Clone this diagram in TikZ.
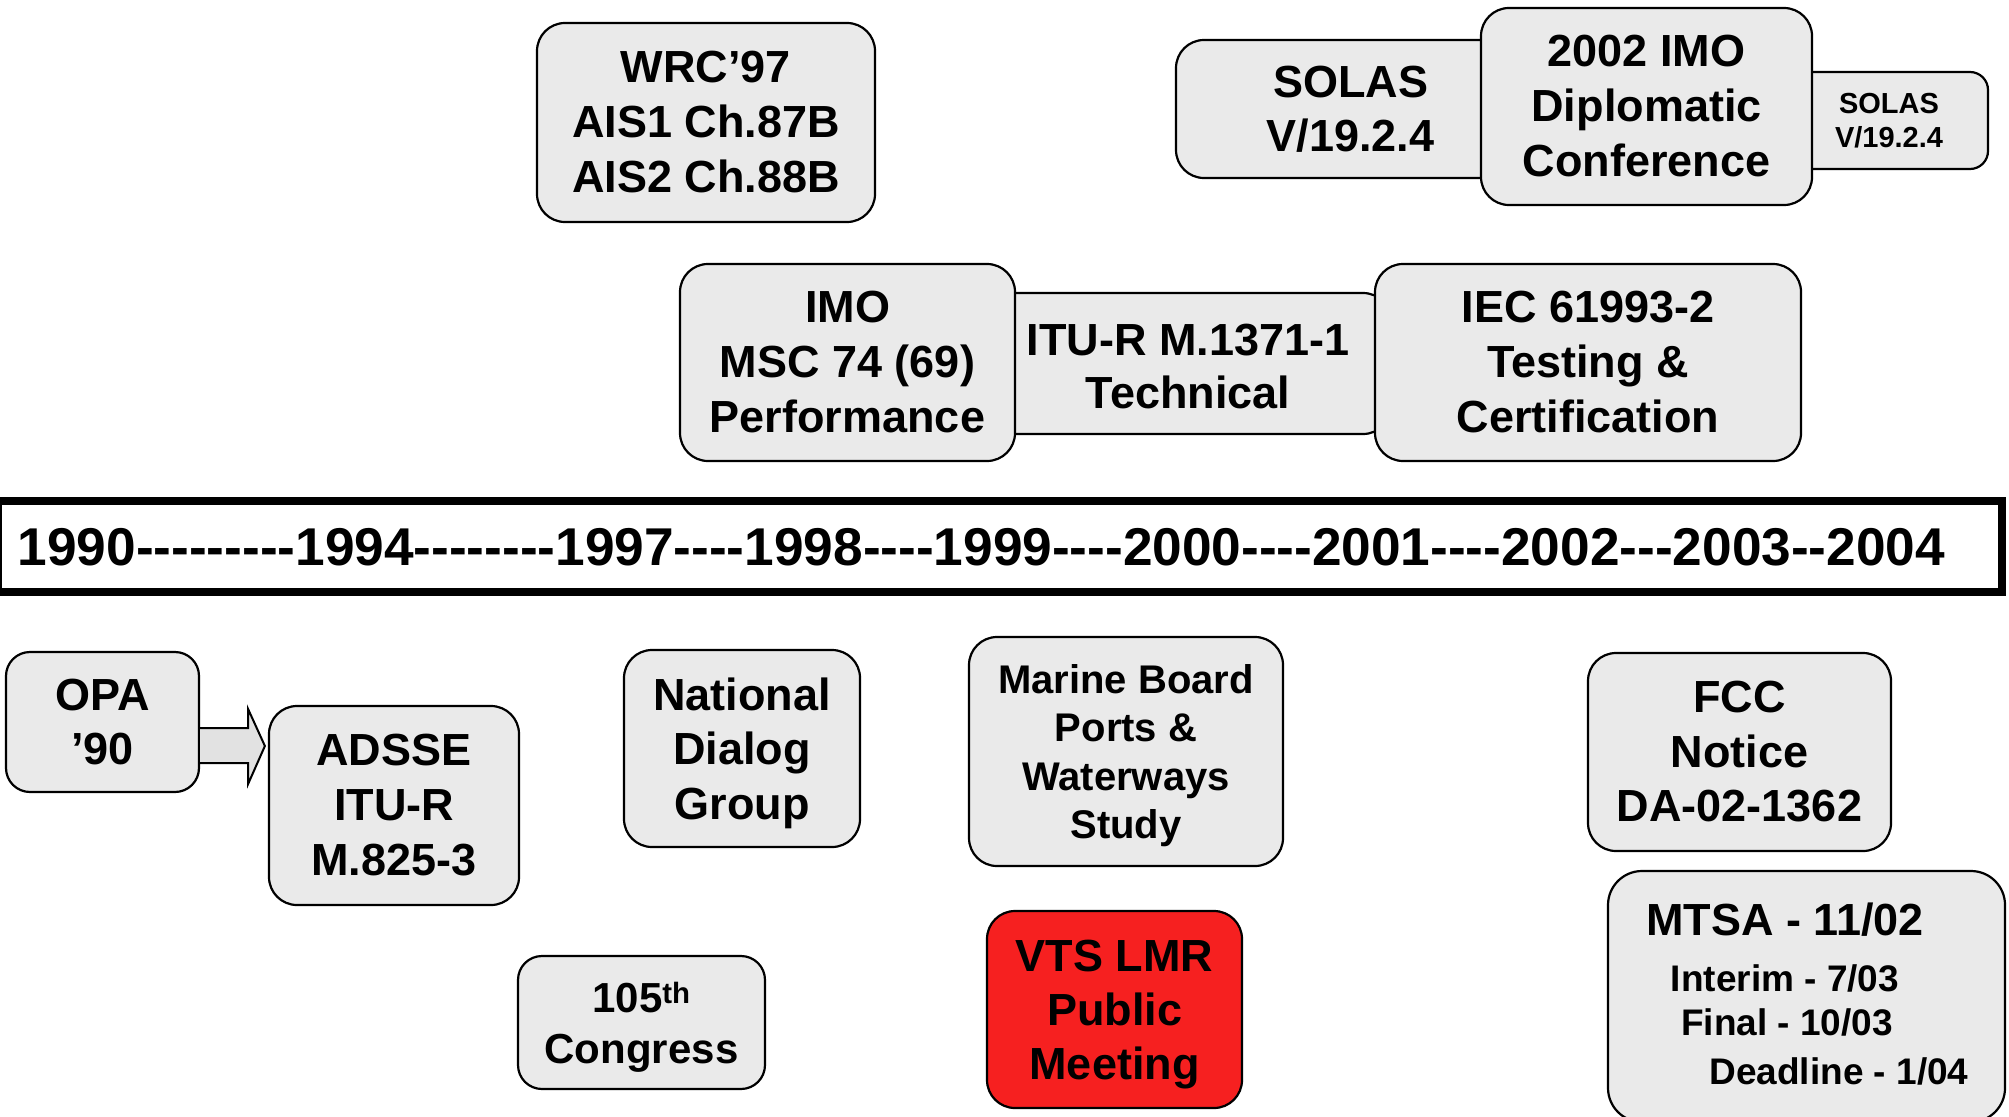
\documentclass[tikz,border=0pt]{standalone}
\usepackage{fontspec}
\setmainfont{Liberation Sans}
\usetikzlibrary{calc}
\definecolor{boxgray}{RGB}{234,234,234}
\definecolor{arrowgray}{RGB}{226,226,226}
\definecolor{vtsred}{RGB}{246,32,32}
\newcommand{\dsh}{\mbox{-}}
\begin{document}
\begin{tikzpicture}[x=1pt,y=-1pt,
  box/.style={draw=black, line width=2.2pt, rounded corners=28pt, fill=boxgray,
    align=center, inner sep=0pt, font=\bfseries\fontsize{45}{55}\selectfont},
  smalltxt/.style={font=\bfseries\fontsize{37}{44}\selectfont, anchor=base, inner sep=0pt},
  blockarrow/.style={draw=black, line width=2pt, fill=arrowgray, line join=miter},
  timeline/.style={draw=black, line width=8pt, fill=white, inner sep=0pt},
  years/.style={font=\bfseries\fontsize{53.2}{60}\selectfont, inner sep=0pt}]
\useasboundingbox (0,0) rectangle (2009,1116);

% top row
\node[box, minimum width=338, minimum height=199] (wrc) at (706,122.5) {WRC’97\\AIS1 Ch.87B\\AIS2 Ch.88B};
\node[box, minimum width=349, minimum height=138, font=\bfseries\fontsize{45}{54}\selectfont] (solasL) at (1350.5,109) {SOLAS\\V/19.2.4};
\node[box, minimum width=198, minimum height=97, rounded corners=18pt, font=\bfseries\fontsize{29}{34}\selectfont] (solasR) at (1889,120.5) {SOLAS\\V/19.2.4};
\node[box, minimum width=331, minimum height=197] (imo) at (1646.5,106.5) {2002 IMO\\Diplomatic\\Conference};

% second row
\node[box, minimum width=406, minimum height=141, font=\bfseries\fontsize{45}{53}\selectfont] (itu) at (1188,363.5) {\rule{0pt}{38pt}ITU-R M.1371-1\\Technical};
\node[box, minimum width=335, minimum height=197] (msc) at (847.5,362.5) {IMO\\MSC 74 (69)\\Performance};
\node[box, minimum width=426, minimum height=197] (iec) at (1588,362.5) {IEC 61993-2\\Testing \&\\Certification};

% timeline
\node[timeline, minimum width=2004, minimum height=91.5] (tl) at (1000,546.25) {};
\node[years] (yrs) at (981.5,547) {1990\dsh\dsh\dsh\dsh\dsh\dsh\dsh\dsh\dsh 1994\dsh\dsh\dsh\dsh\dsh\dsh\dsh\dsh 1997\dsh\dsh\dsh\dsh 1998\dsh\dsh\dsh\dsh 1999\dsh\dsh\dsh\dsh 2000\dsh\dsh\dsh\dsh 2001\dsh\dsh\dsh\dsh 2002\dsh\dsh\dsh 2003\dsh\dsh 2004};

% lower boxes
\node[box, minimum width=193, minimum height=140, rounded corners=24pt, font=\bfseries\fontsize{45}{54}\selectfont] (opa) at (102.5,722) {OPA\\’90};
\node[box, minimum width=250, minimum height=199] (adsse) at (394,805.5) {ADSSE\\ITU-R\\M.825-3};
\node[box, minimum width=236, minimum height=197, font=\bfseries\fontsize{45}{54.5}\selectfont] (ndg) at (742,748.5) {National\\Dialog\\\smash{Group}};
\node[box, minimum width=314, minimum height=229, font=\bfseries\fontsize{40}{48.3}\selectfont] (mb) at (1126,751.5) {Marine Board\\Ports \&\\Waterways\\\smash{Study}};
\node[box, minimum width=255, minimum height=197, fill=vtsred, font=\bfseries\fontsize{45}{54}\selectfont] (vts) at (1114.5,1009.5) {VTS LMR\\Public\\\smash{Meeting}};
\node[box, minimum width=247, minimum height=133, rounded corners=24pt, font=\bfseries\fontsize{42}{51}\selectfont] (cong) at (641.5,1022.5) {105\textsuperscript{th}\\\smash{Congress}};
\node[box, minimum width=303, minimum height=198, font=\bfseries\fontsize{45}{54.5}\selectfont] (fcc) at (1739.5,752) {FCC\\Notice\\DA-02-1362};
\node[box, minimum width=397, minimum height=251, rounded corners=34pt] (mtsa) at (1806.5,996.5) {};
\node[box, draw=none, fill=none, anchor=base] (mtsa1) at (1785,935) {MTSA - 11/02};
\node[smalltxt] (mtsa2) at (1785,991) {Interim - 7/03};
\node[smalltxt] (mtsa3) at (1787,1035) {Final - 10/03};
\node[smalltxt] (mtsa4) at (1839,1084) {Deadline - 1/04};

% block arrow OPA -> ADSSE
\coordinate (base) at ($(opa.east)+(0,24)$);
\coordinate (tip) at ($(adsse.west |- base)+(-3,0)$);
\filldraw[blockarrow] ($(base)+(0,-18)$) -- ($(base)+(48,-18)$) -- ($(base)+(48,-37)$)
  -- (tip) -- ($(base)+(48,38)$) -- ($(base)+(48,17)$) -- ($(base)+(0,17)$);
\end{tikzpicture}
\end{document}
